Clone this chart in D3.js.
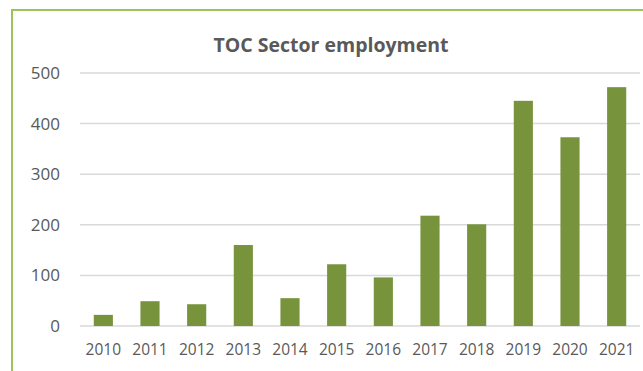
<!DOCTYPE html>
<html>
<head>
<meta charset="utf-8">
<script src="https://cdn.jsdelivr.net/npm/d3@7"></script>
<style>
  html, body { margin: 0; padding: 0; background: #fff; }
  svg { display: block; }
</style>
</head>
<body>
<svg id="chart" width="643" height="371"></svg>
<script>
// TOC sector employment by year
const years = ["2010","2011","2012","2013","2014","2015","2016","2017","2018","2019","2020","2021"];
const employment = [22, 49, 43, 160, 55, 122, 96, 218, 201, 445, 373, 472];
const yTicks = [0, 100, 200, 300, 400, 500];
const title = "TOC Sector employment";

const W = 643, H = 371;
const plot = { left: 80, right: 640, top: 73, bottom: 326 };
const font = "'Open Sans', 'DejaVu Sans', sans-serif";
const textColor = "#595959";

const svg = d3.select("#chart");

// chart frame
svg.append("rect")
  .attr("x", 12).attr("y", 10)
  .attr("width", W).attr("height", H)
  .attr("fill", "#fff")
  .attr("stroke", "#9bc35a")
  .attr("stroke-width", 2);

const x = d3.scaleBand()
  .domain(years)
  .range([plot.left, plot.right])
  .paddingInner(0.59)
  .paddingOuter(0.295);

const y = d3.scaleLinear()
  .domain([0, 500])
  .range([plot.bottom, plot.top]);

// horizontal gridlines
svg.append("g")
  .selectAll("line")
  .data(yTicks)
  .join("line")
  .attr("x1", plot.left).attr("x2", plot.right)
  .attr("y1", d => y(d)).attr("y2", d => y(d))
  .attr("stroke", "#d9d9d9")
  .attr("stroke-width", 1.5);

// y axis labels
const yAxis = d3.axisLeft(y).tickValues(yTicks).tickSize(0).tickPadding(20);
const gy = svg.append("g")
  .attr("transform", `translate(${plot.left},0)`)
  .call(yAxis);
gy.select(".domain").remove();
gy.selectAll("text")
  .attr("fill", textColor)
  .style("font-family", font)
  .style("font-size", "17px");

// bars
svg.append("g")
  .selectAll("rect")
  .data(years.map((yr, i) => ({ yr, v: employment[i] })))
  .join("rect")
  .attr("x", d => x(d.yr))
  .attr("y", d => y(d.v))
  .attr("width", x.bandwidth())
  .attr("height", d => y(0) - y(d.v))
  .attr("fill", "#77933c");

// x axis labels
const xAxis = d3.axisBottom(x).tickSize(0).tickPadding(18);
const gx = svg.append("g")
  .attr("transform", `translate(0,${plot.bottom})`)
  .call(xAxis);
gx.select(".domain").remove();
gx.selectAll("text")
  .attr("fill", textColor)
  .style("font-family", font)
  .style("font-size", "15.5px");

// title
svg.append("text")
  .attr("x", 331).attr("y", 52)
  .attr("text-anchor", "middle")
  .attr("fill", textColor)
  .style("font-family", font)
  .style("font-weight", "bold")
  .style("font-size", "19.5px")
  .text(title);
</script>
</body>
</html>
